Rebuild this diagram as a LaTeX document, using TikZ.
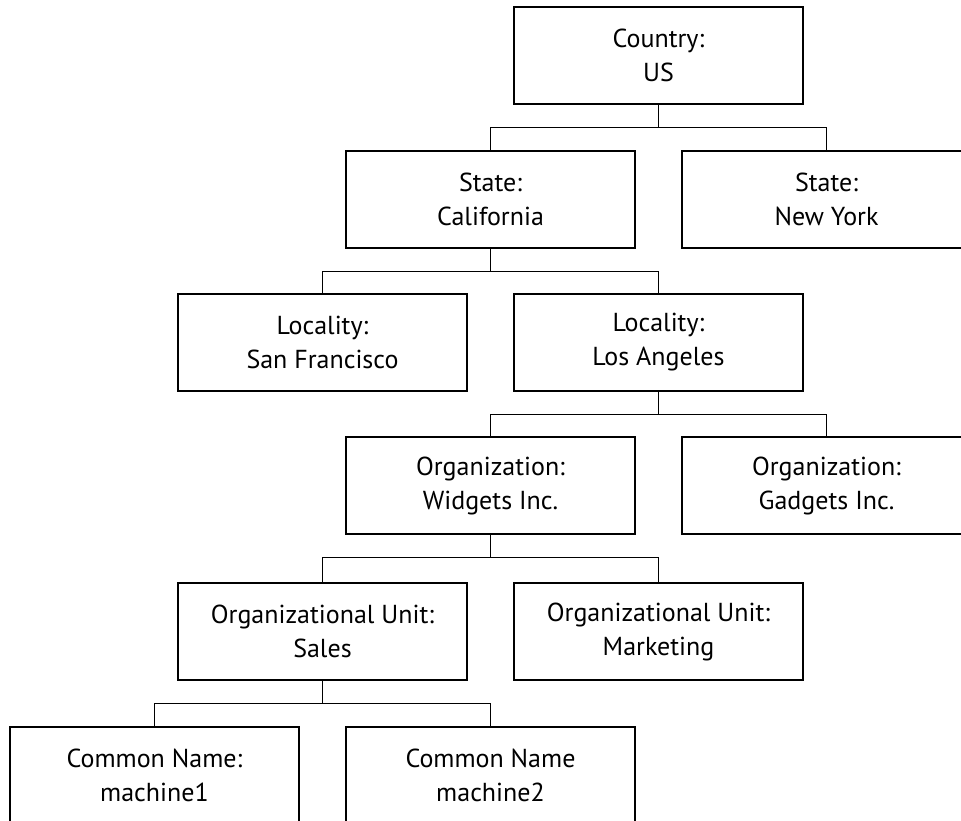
\documentclass[tikz,border=0pt]{standalone}
\usepackage{fontspec}
\setmainfont{PT Sans}
\usetikzlibrary{calc}
\begin{document}
\begin{tikzpicture}[x=1pt,y=-1pt,
  box/.style={draw=black, line width=1.3pt, rectangle, minimum width=289pt, minimum height=97pt,
    inner sep=0pt, align=center, font=\fontsize{26}{34}\selectfont},
  link/.style={draw=black, line width=1.3pt}]
\useasboundingbox (0,0) rectangle (961,821);
\node[box] (us)  at (658.5,55.5)  {Country:\\US};
\node[box] (ca)  at (490.5,199.5) {State:\\California};
\node[box] (ny)  at (826.5,199.5) {State:\\New York};
\node[box] (sf)  at (322.5,342.5) {Locality:\\San Francisco};
\node[box] (la)  at (658.5,342.5) {Locality:\\Los Angeles};
\node[box] (wi)  at (490.5,485.5) {Organization:\\Widgets Inc.};
\node[box] (gi)  at (826.5,485.5) {Organization:\\Gadgets Inc.};
\node[box] (sa)  at (322.5,631.5) {Organizational Unit:\\Sales};
\node[box] (mk)  at (658.5,631.5) {Organizational Unit:\\Marketing};
\node[box] (m1)  at (154.5,775.5) {Common Name:\\machine1};
\node[box] (m2)  at (490.5,775.5) {Common Name\\machine2};
\coordinate (j1) at ($(us.south)+(0,-23pt)$);
\coordinate (j2) at ($(ca.south)+(0,-23pt)$);
\coordinate (j3) at ($(la.south)+(0,-23pt)$);
\coordinate (j4) at ($(wi.south)+(0,-23pt)$);
\coordinate (j5) at ($(sa.south)+(0,-23pt)$);
\draw[link] (us.south) -- (j1);
\draw[link] (ca.north) |- (j1) -| (ny.north);
\draw[link] (ca.south) -- (j2);
\draw[link] (sf.north) |- (j2) -| (la.north);
\draw[link] (la.south) -- (j3);
\draw[link] (wi.north) |- (j3) -| (gi.north);
\draw[link] (wi.south) -- (j4);
\draw[link] (sa.north) |- (j4) -| (mk.north);
\draw[link] (sa.south) -- (j5);
\draw[link] (m1.north) |- (j5) -| (m2.north);
\end{tikzpicture}
\end{document}
